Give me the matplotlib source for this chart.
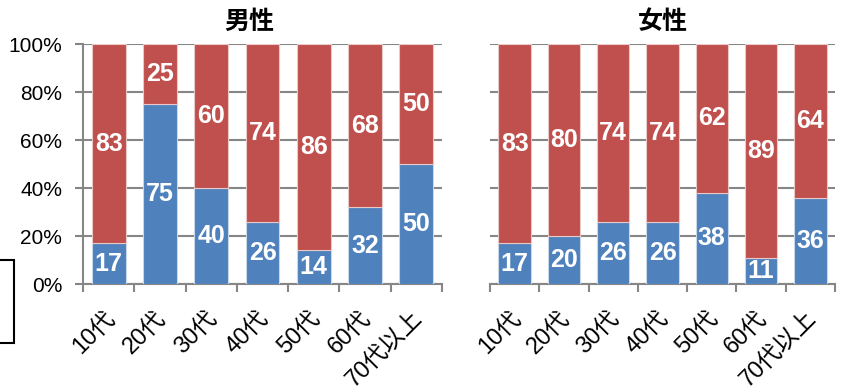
import matplotlib
matplotlib.use("Agg")
import matplotlib.pyplot as plt
from matplotlib.patches import Rectangle
from matplotlib.ticker import FixedLocator
from matplotlib.transforms import blended_transform_factory, ScaledTranslation

plt.rcParams['font.family'] = ['Liberation Sans', 'Noto Sans CJK JP', 'DejaVu Sans']

age_groups = ["10代", "20代", "30代", "40代", "50代", "60代", "70代以上"]
male_blue = [17, 75, 40, 26, 14, 32, 50]
male_red = [83, 25, 60, 74, 86, 68, 50]
female_blue = [17, 20, 26, 26, 38, 11, 36]
female_red = [83, 80, 74, 74, 62, 89, 64]
yticks = [0, 20, 40, 60, 80, 100]
ytick_labels = ["0%", "20%", "40%", "60%", "80%", "100%"]

BLUE = "#4F81BD"
RED = "#C0504D"
GRID = "#868686"

W, H = 847, 389
fig = plt.figure(figsize=(W / 100, H / 100), dpi=100)

def frame(l, r, t, b):
    return [l / W, 1 - b / H, (r - l) / W, (b - t) / H]

ax_m = fig.add_axes(frame(83, 442, 44, 284))
ax_f = fig.add_axes(frame(490, 835, 44, 284))

LABEL_FONT = ['Liberation Sans Narrow', 'Liberation Sans', 'DejaVu Sans']
# category labels hang below the axis, anchored a little left of each bar centre
label_offset = ScaledTranslation(-5 / 100, -23 / 100, fig.dpi_scale_trans)

def draw_panel(ax, blue, red, title, title_x, show_y):
    x = list(range(len(age_groups)))
    ax.bar(x, blue, width=0.66, color=BLUE, edgecolor="#C9D7EA", linewidth=0.8, zorder=3)
    ax.bar(x, red, width=0.66, bottom=blue, color=RED, edgecolor="#E9C9C8", linewidth=0.8, zorder=3)
    for i, (b, r) in enumerate(zip(blue, red)):
        ax.text(i, b / 2, str(b), ha="center", va="center", color="white",
                fontsize=18, fontweight="bold", family=LABEL_FONT, zorder=4)
        ax.text(i, b + r / 2, str(r), ha="center", va="center", color="white",
                fontsize=18, fontweight="bold", family=LABEL_FONT, zorder=4)
    ax.set_xlim(-0.5, len(age_groups) - 0.5)
    ax.set_ylim(0, 100)
    ax.set_yticks(yticks)
    ax.yaxis.grid(True, color=GRID, linewidth=1.5, zorder=0)
    ax.set_axisbelow(True)
    for s in ["top", "right"]:
        ax.spines[s].set_visible(False)
    ax.spines["bottom"].set_color(GRID)
    ax.spines["bottom"].set_linewidth(1.5)
    ax.spines["left"].set_color(GRID)
    ax.spines["left"].set_linewidth(1.5)
    if show_y:
        ax.set_yticklabels(ytick_labels, fontsize=15)
        ax.tick_params(axis="y", length=6, width=1.5, color=GRID, pad=9)
    else:
        ax.spines["left"].set_visible(False)
        ax.tick_params(axis="y", length=0, labelleft=False)
    ax.set_xticks(x)
    ax.tick_params(axis="x", which="major", length=0, labelbottom=False)
    ax.xaxis.set_minor_locator(FixedLocator([k - 0.5 for k in range(len(age_groups) + 1)]))
    ax.tick_params(axis="x", which="minor", length=6, width=1.5, color=GRID)
    xtrans = blended_transform_factory(ax.transData, ax.transAxes) + label_offset
    for i, name in zip(x, age_groups):
        ax.text(i, 0, name, transform=xtrans, rotation=45, ha="right", va="top",
                rotation_mode="anchor", fontsize=17, clip_on=False)
    trans = blended_transform_factory(ax.transAxes, fig.transFigure)
    ax.text(title_x, 1 - 22 / H, title, transform=trans,
            ha="center", va="center", fontsize=18, fontweight="bold",
            family=['Noto Sans CJK JP', 'DejaVu Sans'])

draw_panel(ax_m, male_blue, male_red, "男性", 0.462, True)
draw_panel(ax_f, female_blue, female_red, "女性", 0.5, False)

fig.add_artist(Rectangle((-10 / W, 1 - 343 / H), 24 / W, 83 / H, transform=fig.transFigure,
                         fill=False, edgecolor="black", linewidth=1.5))

fig.savefig("out.png", dpi=100)
